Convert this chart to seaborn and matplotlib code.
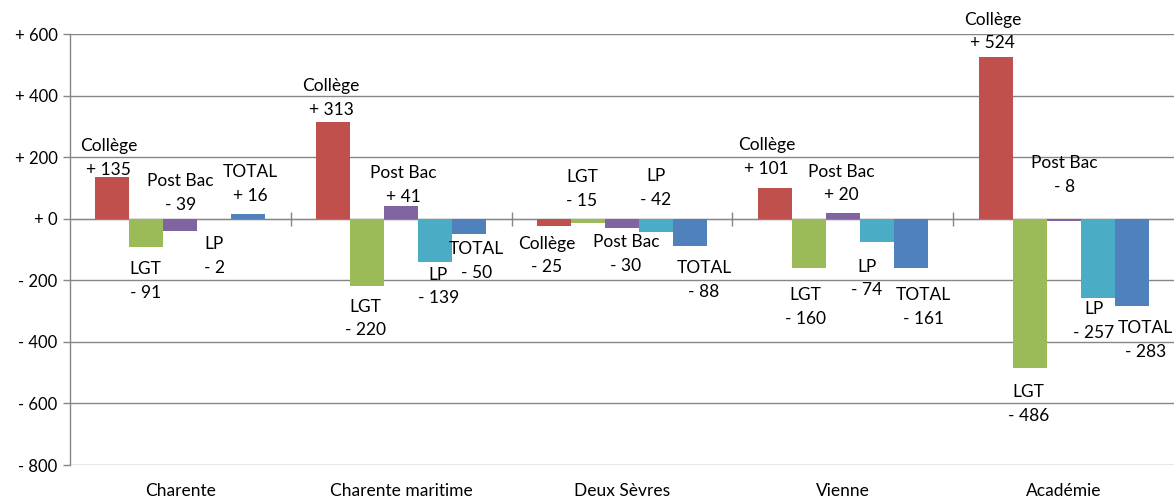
import matplotlib
matplotlib.use("Agg")
import matplotlib.pyplot as plt
import seaborn as sns
import pandas as pd
import numpy as np

# ---- data ----
categories = ["Charente", "Charente maritime", "Deux Sèvres", "Vienne", "Académie"]
series = ["Collège", "LGT", "Post Bac", "LP", "TOTAL"]
college = [135, 313, -25, 101, 524]
lgt = [-91, -220, -15, -160, -486]
post_bac = [-39, 41, -30, 20, -8]
lp = [-2, -139, -42, -74, -257]
total = [16, -50, -88, -161, -283]
y_ticks = [-800, -600, -400, -200, 0, 200, 400, 600]

# ---- style ----
colors = ["#C0504D", "#9BBB59", "#8064A2", "#4BACC6", "#4F81BD"]
# label offsets in pixels (dx, dy; dy>0 = downwards) per series per category
label_offsets = [
    [(-4, -19), (-2, -24), (-7, 29), (-8, -31), (-3, -26)],
    [(-1, 34), (-2, 32), (-6, -34), (-3, 39), (-1, 36)],
    [(0, -38), (2, -21), (4, 26), (-1, -29), (1, -46)],
    [(0, 37), (3, 25), (0, -44), (-10, 37), (-4, 23)],
    [(2, -30), (7, 27), (14, 34), (13, 39), (14, 34)],
]

values = [college, lgt, post_bac, lp, total]
rows = []
for s, vals in zip(series, values):
    for c, v in zip(categories, vals):
        rows.append({"cat": c, "serie": s, "val": v})
df = pd.DataFrame(rows)

sns.set_style("white")
plt.rcParams["font.family"] = ["Lato", "DejaVu Sans"]

fig = plt.figure(figsize=(11.74, 5.03), dpi=100)
ax = fig.add_axes([0.0596, 0.0755, 0.9404, 0.8569])

sns.barplot(data=df, x="cat", y="val", hue="serie", order=categories,
            hue_order=series, palette=colors, width=0.77, linewidth=0,
            saturation=1, legend=False, ax=ax, errorbar=None)

ymin, ymax = -800, 600
ax.set_ylim(ymin, ymax)
ax.set_xlim(-0.5, len(categories) - 0.5)
ax.set_yticks(y_ticks)
ax.set_yticklabels([("+ " if t >= 0 else "- ") + str(abs(t)) for t in y_ticks],
                   fontsize=12, color="black")
ax.yaxis.grid(True, color="#868686", linewidth=1)
ax.set_axisbelow(True)
ax.tick_params(axis="y", which="major", length=5, color="#868686", width=1, pad=4, left=True)
ax.tick_params(axis="x", length=0, labelsize=12.5, labelcolor="black", pad=13)
ax.set_xlabel("")
ax.set_ylabel("")
for side in ["top", "right", "bottom"]:
    ax.spines[side].set_visible(False)
ax.spines["left"].set_color("#868686")
ax.spines["left"].set_linewidth(1)

# zero axis with group boundary ticks
sec = ax.secondary_xaxis((0 - ymin) / (ymax - ymin))
sec.set_xticks(np.arange(0.5, len(categories) - 0.5, 1.0))
sec.set_xticklabels([])
sec.tick_params(direction="inout", length=10, color="#868686", width=1)
sec.spines["bottom"].set_color("#868686")
sec.spines["bottom"].set_linewidth(1)

# data labels
for si, cont in enumerate(ax.containers):
    for ci, bar in enumerate(cont):
        v = values[si][ci]
        xc = bar.get_x() + bar.get_width() / 2
        dx, dy = label_offsets[si][ci]
        txt = f"{series[si]}\n{'+' if v >= 0 else '-'} {abs(v)}"
        ax.annotate(txt, (xc, v), xytext=(dx, -dy), textcoords="offset pixels",
                    ha="center", va="center", fontsize=12.5, color="black",
                    linespacing=1.6)

fig.savefig("out.png", dpi=100)
